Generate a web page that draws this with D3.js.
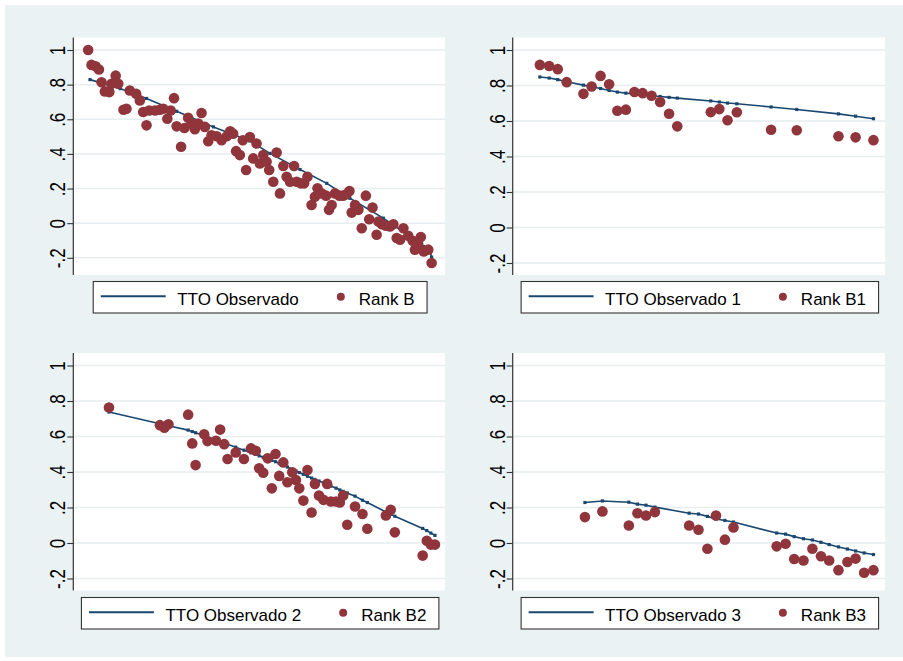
<!DOCTYPE html>
<html>
<head>
<meta charset="utf-8">
<script src="https://cdn.jsdelivr.net/npm/d3@7"></script>
<style>
  html, body { margin: 0; padding: 0; background: #fff; }
  svg { display: block; }
</style>
</head>
<body>
<svg id="chart" width="903" height="661"></svg>
<script>
// ---- Data: position of each health state (0-100) and its value ----
const rankBx = [4.0,4.9,6.0,6.9,7.6,8.5,9.7,10.3,11.4,12.1,13.5,14.3,15.2,16.9,17.9,18.8,19.7,20.4,22.0,23.3,
  24.2,25.3,26.2,27.1,27.8,29.0,29.9,30.9,31.8,32.7,33.6,34.5,35.4,36.3,37.2,38.6,39.9,41.3,42.2,43.0,
  43.8,44.8,45.6,46.5,47.5,48.4,49.3,50.2,51.1,52.0,52.7,53.8,54.7,55.6,56.5,57.4,58.3,59.4,60.1,61.2,
  62.1,63.0,64.1,65.0,65.7,66.8,68.0,68.8,69.5,70.4,71.6,72.6,73.5,74.3,74.9,75.8,76.7,77.6,78.7,79.6,
  80.5,81.6,82.1,83.0,84.1,85.2,86.1,87.0,87.9,88.8,90.1,91.3,91.9,92.8,93.5,94.3,95.5,96.4];
const rankBy = [1.000,0.914,0.906,0.887,0.814,0.761,0.757,0.805,0.852,0.805,0.655,0.661,0.766,0.747,0.709,0.642,0.565,0.651,0.651,0.655,
  0.661,0.603,0.651,0.722,0.559,0.441,0.550,0.609,0.575,0.542,0.575,0.636,0.556,0.473,0.508,0.502,0.479,0.502,0.531,0.517,
  0.416,0.393,0.479,0.307,0.498,0.374,0.460,0.345,0.393,0.354,0.307,0.239,0.408,0.172,0.330,0.268,0.239,0.330,0.239,0.230,
  0.230,0.268,0.105,0.153,0.201,0.172,0.159,0.077,0.105,0.172,0.159,0.159,0.167,0.186,0.061,0.105,0.077,-0.029,0.159,0.023,
  0.090,-0.067,0.010,-0.006,-0.015,-0.019,-0.006,-0.086,-0.096,-0.029,-0.073,-0.102,-0.153,-0.121,-0.080,-0.163,-0.153,-0.230];
const ttoBx = [4.5,12.6,19.7,27.8,37.7,45.7,47.5,52.9,61.0,68.2,74.4,83.4,90.6,94.2,96.0,96.4];
const ttoBy = [0.829,0.777,0.720,0.646,0.556,0.490,0.475,0.403,0.310,0.230,0.144,0.029,-0.077,-0.135,-0.163,-0.196];

const rankB1x = [7.3,9.8,12.1,14.5,19.0,21.2,23.6,25.9,28.1,30.4,32.7,34.9,37.3,39.6,42.0,44.2,53.2,55.5,57.7,60.2,69.4,76.3,87.5,92.1,96.9];
const rankB1y = [0.916,0.910,0.892,0.819,0.753,0.794,0.854,0.807,0.658,0.664,0.763,0.757,0.742,0.707,0.641,0.570,0.650,0.667,0.604,0.649,0.551,0.548,0.514,0.508,0.492];
const tto1y   = [0.848,0.842,0.833,0.821,0.802,0.793,0.783,0.772,0.763,0.757,0.752,0.747,0.742,0.738,0.733,0.729,0.713,0.707,0.701,0.697,0.679,0.665,0.640,0.627,0.613];

const rankB2x = [9.6,23.3,24.5,25.6,30.9,32.0,32.9,35.2,36.1,38.4,39.5,40.6,41.5,43.7,45.9,47.8,49.1,50.0,51.1,52.3,
  53.4,54.4,55.4,56.5,57.6,58.9,59.9,60.8,61.9,63.0,64.1,65.0,66.1,67.3,68.3,69.3,70.7,71.7,72.6,73.7,
  75.8,77.8,79.1,84.1,85.4,86.5,94.0,95.1,96.2,97.3];
const rankB2y = [0.763,0.664,0.649,0.669,0.723,0.561,0.439,0.613,0.574,0.576,0.639,0.557,0.473,0.510,0.473,0.533,0.520,0.421,0.396,0.477,
  0.308,0.501,0.378,0.454,0.342,0.398,0.355,0.308,0.239,0.411,0.172,0.333,0.267,0.243,0.333,0.234,0.234,0.228,0.267,0.103,
  0.206,0.163,0.080,0.155,0.187,0.060,-0.071,0.013,-0.009,-0.009];
const tto2y   = [0.738,0.672,0.667,0.661,0.636,0.628,0.621,0.604,0.597,0.580,0.571,0.563,0.556,0.540,0.523,0.508,0.499,0.491,0.483,0.474,
  0.466,0.458,0.449,0.438,0.428,0.415,0.406,0.397,0.387,0.376,0.366,0.358,0.349,0.339,0.330,0.321,0.309,0.299,0.291,0.282,
  0.264,0.241,0.228,0.175,0.162,0.151,0.082,0.070,0.056,0.043];

const rankB3x = [19.4,24.1,31.2,33.5,35.8,38.2,47.4,49.9,52.3,54.6,57.0,59.3,70.9,73.3,75.6,78.1,80.5,82.8,85.0,87.5,89.9,92.1,94.4,96.9];
const rankB3y = [0.146,0.178,0.099,0.168,0.155,0.174,0.099,0.075,-0.032,0.155,0.019,0.088,-0.019,-0.004,-0.090,-0.099,-0.032,-0.075,-0.099,-0.153,-0.107,-0.088,-0.168,-0.153];
const tto3y   = [0.228,0.237,0.230,0.219,0.213,0.202,0.168,0.163,0.150,0.135,0.127,0.118,0.056,0.050,0.036,0.024,0.017,0.004,-0.009,-0.022,-0.034,-0.045,-0.056,-0.065];

const lineNames = ["TTO Observado", "TTO Observado 1", "TTO Observado 2", "TTO Observado 3"];
const dotNames  = ["Rank B", "Rank B1", "Rank B2", "Rank B3"];
const yTicks = [-0.2, 0, 0.2, 0.4, 0.6, 0.8, 1];
const yTickLabels = ["-.2", "0", ".2", ".4", ".6", ".8", "1"];

// ---- Styling ----
const FONT = "'Liberation Sans', Arial, Helvetica, sans-serif";
const NAVY = "#1A476F";
const MAROON = "#90353B";
const BG = "#EAF2F3";
const GRID = "#E6EEF0";

const panels = [
  { dx: rankBx,  dy: rankBy,  lx: ttoBx,   ly: ttoBy, left: 73.3,  right: 445, top: 37.5, bottom: 275,   legendTop: 281.5 },
  { dx: rankB1x, dy: rankB1y, lx: rankB1x, ly: tto1y, left: 512.7, right: 885, top: 37.5, bottom: 275,   legendTop: 281.5 },
  { dx: rankB2x, dy: rankB2y, lx: rankB2x, ly: tto2y, left: 73.3,  right: 445, top: 353,  bottom: 590.5, legendTop: 597.5 },
  { dx: rankB3x, dy: rankB3y, lx: rankB3x, ly: tto3y, left: 512.7, right: 885, top: 353,  bottom: 590.5, legendTop: 597.5 }
];

const svg = d3.select("#chart");
svg.append("rect").attr("width", 903).attr("height", 661).attr("fill", "#fff");
svg.append("rect").attr("x", 5).attr("y", 5).attr("width", 898).attr("height", 652).attr("fill", BG);

panels.forEach((p, i) => {
  const g = svg.append("g");
  const allY = p.dy.concat(p.ly);
  const y = d3.scaleLinear()
    .domain([Math.min(-0.2, d3.min(allY)), Math.max(1, d3.max(allY))])
    .range([p.bottom - 12, p.top + 12.5]);
  const x = d3.scaleLinear().domain([0, 100]).range([p.left, p.right]);

  // plot region
  g.append("rect").attr("x", p.left).attr("y", p.top)
    .attr("width", p.right - p.left).attr("height", p.bottom - p.top).attr("fill", "#fff");

  // horizontal grid
  g.selectAll("line.grid").data(yTicks).join("line").attr("class", "grid")
    .attr("x1", p.left).attr("x2", p.right)
    .attr("y1", d => y(d)).attr("y2", d => y(d))
    .attr("stroke", GRID).attr("stroke-width", 1.5);

  // y axis
  const ax = g.append("g").attr("transform", `translate(${p.left},0)`)
    .call(d3.axisLeft(y).tickValues(yTicks).tickSize(6)
      .tickFormat((d, k) => yTickLabels[k]));
  ax.select(".domain").remove();
  ax.selectAll(".tick line").attr("stroke", "#333").attr("stroke-width", 1.1);
  ax.selectAll(".tick text")
    .attr("x", 0).attr("y", 0).attr("dy", 0)
    .attr("transform", "translate(-8,0) rotate(-90) scale(1,1.35)")
    .attr("text-anchor", "middle")
    .attr("fill", "#000")
    .style("font-family", FONT).style("font-size", "17px");
  g.append("line").attr("x1", p.left).attr("x2", p.left)
    .attr("y1", p.top).attr("y2", p.bottom)
    .attr("stroke", "#333").attr("stroke-width", 1.2);

  // observed TTO line with small square markers
  const pts = p.lx.map((v, k) => [v, p.ly[k]]);
  g.append("path").datum(pts)
    .attr("d", d3.line().x(d => x(d[0])).y(d => y(d[1])))
    .attr("fill", "none").attr("stroke", NAVY).attr("stroke-width", 1.6);
  g.selectAll("rect.mk").data(pts).join("rect").attr("class", "mk")
    .attr("x", d => x(d[0]) - 1.6).attr("y", d => y(d[1]) - 1.6)
    .attr("width", 3.2).attr("height", 3.2).attr("fill", NAVY);

  // rank dots
  g.selectAll("circle.dot").data(p.dx.map((v, k) => [v, p.dy[k]])).join("circle")
    .attr("class", "dot")
    .attr("cx", d => x(d[0])).attr("cy", d => y(d[1]))
    .attr("r", 5.3).attr("fill", MAROON);

  // legend
  const lg = g.append("g");
  const box = lg.append("rect").attr("fill", "#fff").attr("stroke", "#333").attr("stroke-width", 1.1);
  const t1 = lg.append("text").text(lineNames[i])
    .style("font-family", FONT).style("font-size", "17px").attr("fill", "#000");
  const t2 = lg.append("text").text(dotNames[i])
    .style("font-family", FONT).style("font-size", "17px").attr("fill", "#000");
  const w1 = t1.node().getComputedTextLength();
  const w2 = t2.node().getComputedTextLength();
  const padL = 7.5, keyLen = 65, gap1 = 11.5, gapM = 42, gap2 = 18, padR = 12.5;
  const width = padL + keyLen + gap1 + w1 + gapM + gap2 + w2 + padR;
  const cx = (p.left + p.right) / 2 + 1;
  const bx = cx - width / 2;
  const midY = p.legendTop + 14.8;
  box.attr("x", bx).attr("y", p.legendTop).attr("width", width).attr("height", 31.5);
  lg.append("line").attr("x1", bx + padL).attr("x2", bx + padL + keyLen)
    .attr("y1", midY).attr("y2", midY).attr("stroke", NAVY).attr("stroke-width", 2);
  t1.attr("x", bx + padL + keyLen + gap1).attr("y", p.legendTop + 23.5);
  const mx = bx + padL + keyLen + gap1 + w1 + gapM;
  lg.append("circle").attr("cx", mx).attr("cy", midY + 0.5).attr("r", 4).attr("fill", MAROON);
  t2.attr("x", mx + gap2).attr("y", p.legendTop + 23.5);
});
</script>
</body>
</html>
